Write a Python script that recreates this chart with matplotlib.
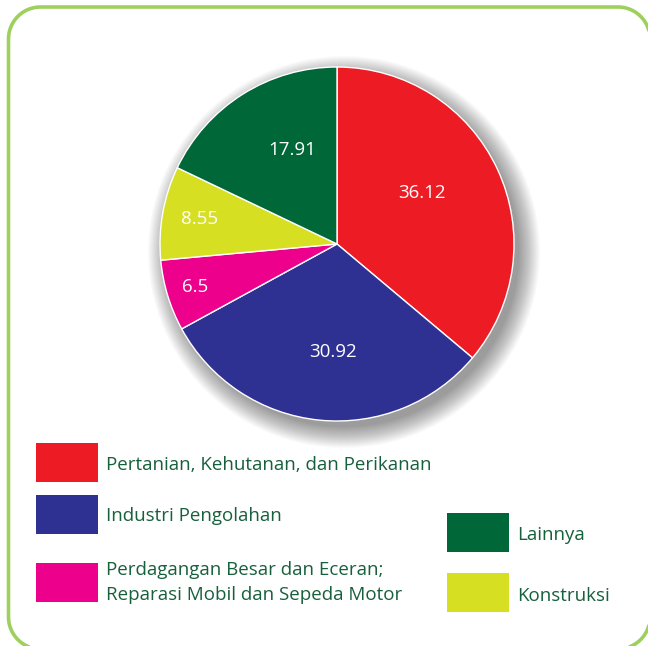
import matplotlib
matplotlib.use("Agg")
import matplotlib.pyplot as plt
import numpy as np
from matplotlib.patches import Rectangle, Circle, PathPatch
from matplotlib.path import Path

plt.rcParams['font.family'] = ['Open Sans', 'DejaVu Sans']

categories = ["Pertanian, Kehutanan, dan Perikanan", "Industri Pengolahan",
              "Perdagangan Besar dan Eceran;\nReparasi Mobil dan Sepeda Motor",
              "Konstruksi", "Lainnya"]
values = [36.12, 30.92, 6.5, 8.55, 17.91]
value_labels = ["36.12", "30.92", "6.5", "8.55", "17.91"]
colors = ["#ED1C24", "#2E3192", "#EC008C", "#D7DF23", "#006838"]
label_radius = [0.56, 0.61, 0.84, 0.79, 0.59]
label_angle_shift = [6.0, 3.6, 0.0, 0.0, -6.6]

W, H = 648, 646
fig = plt.figure(figsize=(W / 100, H / 100), dpi=100)
ax = fig.add_axes([0, 0, 1, 1])

cx, cy, R = 337, 402, 177
# soft shadow
for k in range(22):
    ax.add_patch(Circle((cx + 7, cy - 8), R + 19 - k, facecolor='black',
                        edgecolor='none', alpha=0.018, zorder=2))

wedges, _ = ax.pie(values, colors=colors, startangle=90, counterclock=False,
                   center=(cx, cy), radius=R, frame=True,
                   wedgeprops=dict(edgecolor='white', linewidth=1.0, zorder=3))
ax.set_xlim(0, W)
ax.set_ylim(0, H)
ax.set_aspect('equal')
ax.axis('off')

# rounded frame built as an explicit path
def rounded_rect(x0, y0, x1, y1, r, n=30):
    pts = []
    corners = [((x1 - r, y1 - r), 0, 90), ((x0 + r, y1 - r), 90, 180),
               ((x0 + r, y0 + r), 180, 270), ((x1 - r, y0 + r), 270, 360)]
    for (ccx, ccy), a0, a1 in corners:
        t = np.deg2rad(np.linspace(a0, a1, n))
        pts.extend(zip(ccx + r * np.cos(t), ccy + r * np.sin(t)))
    pts.append(pts[0])
    return Path(pts)

frame = PathPatch(rounded_rect(8.5, -3, 650, 639, 32), fill=False,
                  edgecolor="#9DD05C", linewidth=2.6, zorder=1, clip_on=False)
ax.add_patch(frame)

for w, lab, fr, sh in zip(wedges, value_labels, label_radius, label_angle_shift):
    ang = np.deg2rad((w.theta1 + w.theta2) / 2 + sh)
    ax.text(cx + fr * R * np.cos(ang), cy + fr * R * np.sin(ang), lab,
            color='white', fontsize=13.5, ha='center', va='center', zorder=5)

text_color = "#17603C"
# legend: (category index, patch x, patch top y in image px, text x, text y list)
legend_items = [
    (0, 36, 443, 106, [465]),
    (1, 36, 495, 106, [516]),
    (2, 36, 563, 106, [570, 595]),
    (4, 447, 513, 517, [535]),
    (3, 447, 573, 517, [596]),
]
for idx, px, py, tx, tys in legend_items:
    ax.add_patch(Rectangle((px, H - py - 39), 62, 39, facecolor=colors[idx],
                           edgecolor='none', zorder=4))
    lines = categories[idx].split("\n")
    for line, ty in zip(lines, tys):
        ax.text(tx, H - ty, line, color=text_color, fontsize=13.5,
                ha='left', va='center', zorder=5)

fig.savefig("out.png", dpi=100)
